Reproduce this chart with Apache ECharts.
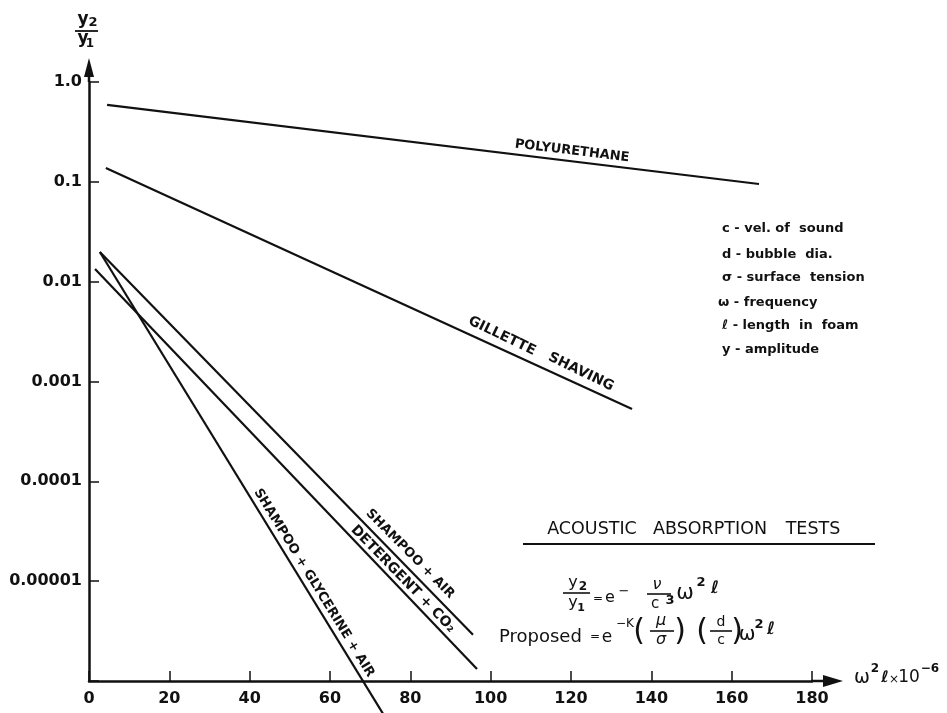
<!DOCTYPE html>
<html><head><meta charset="utf-8">
<script src="https://cdn.jsdelivr.net/npm/echarts@6/dist/echarts.min.js"></script>
<style>html,body{margin:0;padding:0;background:#fff}#c{width:947px;height:713px}</style>
</head><body><div id="c"></div>
<script>
// ---- data ----
const xTicks = [0, 20, 40, 60, 80, 100, 120, 140, 160, 180];
const yTickLabels = ['1.0', '0.1', '0.01', '0.001', '0.0001', '0.00001'];
const seriesNames = ['POLYURETHANE', 'GILLETTE SHAVING', 'SHAMPOO + AIR', 'DETERGENT + CO2', 'SHAMPOO + GLYCERINE + AIR'];
const polyurethane = [[4.5, 0.589], [166.8, 0.0951]];
const gillette = [[4.2, 0.1376], [135.2, 5.3e-4]];
const shampooAir = [[2.7, 0.0198], [95.6, 2.9e-6]];
const detergentCO2 = [[1.5, 0.0134], [96.6, 1.32e-6]];
const shampooGlycerine = [[2.7, 0.0198], [73.2, 4.7e-7]];

const FF = '"DejaVu Sans", sans-serif';
const INK = '#111';
function T(text, x, y, size, o) {
  o = o || {};
  return { type: 'text', x: x, y: y, rotation: o.rot || 0, z: 10,
    style: { text: text, fill: INK, fontSize: size, fontFamily: o.ff || FF,
      fontWeight: o.w || 'normal', fontStyle: o.it ? 'italic' : 'normal',
      align: o.align || 'center', verticalAlign: 'middle' } };
}
function L(x1, y1, x2, y2, w) {
  return { type: 'line', z: 10, shape: { x1: x1, y1: y1, x2: x2, y2: y2 }, style: { stroke: INK, lineWidth: w || 1.5 } };
}
function P(points) {
  return { type: 'polygon', z: 10, shape: { points: points }, style: { fill: INK } };
}

const lineStyle = { color: INK, width: 2.2 };
function S(name, data) {
  return { name: name, type: 'line', data: data, symbol: 'none', clip: false,
    lineStyle: lineStyle, silent: true, animation: false };
}

const graphics = [
  // axis arrow extensions
  L(89, 82, 89, 70, 2.5), P([[84, 77], [94, 77], [89, 58]]),
  L(811, 681, 826, 681, 2.5), P([[823, 675], [823, 687], [843, 681]]),
  // y axis title
  T('y', 83, 20, 17, { w: 'bold' }), T('2', 93, 23, 13, { w: 'bold' }), L(75, 31, 98, 31, 1.8),
  T('y', 83, 39, 17, { w: 'bold' }), T('1', 90, 44, 12, { w: 'bold' }),
  // x axis title
  T('ω', 862, 678, 19), T('2', 875, 669, 12, { w: 'bold' }), T('ℓ', 885, 678, 16, { it: true, w: 'bold' }),
  T('×', 894, 680, 12), T('10', 909, 678, 17), T('−6', 930, 669, 12, { w: 'bold' }),
  // line labels
  T('POLYURETHANE', 572, 151, 13, { w: 'bold', rot: -0.12 }),
  T('GILLETTE', 502, 336, 14, { w: 'bold', rot: -0.45 }),
  T('SHAVING', 581, 372, 14, { w: 'bold', rot: -0.45 }),
  T('SHAMPOO + AIR', 410, 554, 13, { w: 'bold', rot: -0.79 }),
  T('DETERGENT + CO₂', 403, 579, 14, { w: 'bold', rot: -0.80 }),
  T('SHAMPOO + GLYCERINE + AIR', 314, 583, 13, { w: 'bold', rot: -1.02 }),
  // legend of symbols
  T('c - vel. of  sound', 722, 229, 13, { w: 'bold', align: 'left' }),
  T('d - bubble  dia.', 722, 255, 13, { w: 'bold', align: 'left' }),
  T('σ - surface  tension', 722, 278, 13, { w: 'bold', align: 'left' }),
  T('ω - frequency', 718, 303, 13, { w: 'bold', align: 'left' }),
  T('ℓ - length  in  foam', 722, 326, 13, { w: 'bold', align: 'left' }),
  T('y - amplitude', 722, 350, 13, { w: 'bold', align: 'left' }),
  // title block
  T('ACOUSTIC', 592, 529, 17.5), T('ABSORPTION', 710, 529, 17.5), T('TESTS', 813, 529, 17.5),
  L(523, 544, 875, 544, 2),
  // formula 1
  T('y', 573, 583, 16), T('2', 583, 587, 12, { w: 'bold' }), L(563, 593, 590, 593, 1.6),
  T('y', 573, 603, 16), T('1', 581, 608, 11, { w: 'bold' }),
  T('=', 598, 599, 12), T('e', 610, 598, 16), T('−', 624, 592, 13),
  T('ν', 657, 585, 16, { it: true }), L(647, 594, 671, 594, 1.6),
  T('c', 655, 604, 15), T('3', 670, 601, 13, { w: 'bold' }),
  T('ω', 685, 594, 21), T('2', 701, 583, 13, { w: 'bold' }), T('ℓ', 715, 589, 17, { it: true, w: 'bold' }),
  // formula 2
  T('Proposed', 499, 637, 18, { align: 'left' }),
  T('=', 595, 637, 12), T('e', 607, 638, 17), T('−K', 625, 624, 12),
  T('(', 639, 632, 30), T('μ', 661, 621, 16, { it: true }), L(650, 631, 674, 631, 1.6),
  T('σ', 661, 640, 16, { it: true }), T(')', 680, 632, 30),
  T('(', 702, 632, 30), T('d', 721, 622, 14), L(710, 631, 732, 631, 1.6),
  T('c', 721, 640, 14), T(')', 737, 632, 30),
  T('ω', 747, 635, 20), T('2', 759, 625, 13, { w: 'bold' }), T('ℓ', 771, 630, 17, { it: true, w: 'bold' })
];

const chart = echarts.init(document.getElementById('c'), null, { renderer: 'canvas' });
chart.setOption({
  animation: false,
  backgroundColor: '#fff',
  grid: { left: 89, right: 135, top: 82, bottom: 32, outerBoundsMode: 'none' },
  xAxis: {
    type: 'value', min: xTicks[0], max: xTicks[xTicks.length - 1], interval: 20,
    axisLine: { show: true, onZero: false, lineStyle: { color: INK, width: 2.5 } },
    axisTick: { show: true, inside: true, length: 10, lineStyle: { color: INK, width: 1.5 } },
    axisLabel: { color: INK, fontSize: 16, fontWeight: 'bold', fontFamily: FF, margin: 10 },
    splitLine: { show: false }
  },
  yAxis: {
    type: 'log', logBase: 10, min: 1e-6, max: 1, splitNumber: 6,
    axisLine: { show: true, onZero: false, lineStyle: { color: INK, width: 2.5 } },
    axisTick: { show: true, inside: true, length: 10, lineStyle: { color: INK, width: 1.5 } },
    axisLabel: {
      color: INK, fontSize: 16, fontWeight: 'bold', fontFamily: FF, margin: 7,
      formatter: function (v) {
        const idx = Math.round(-Math.log10(v));
        return yTickLabels[idx] !== undefined ? yTickLabels[idx] : '';
      }
    },
    splitLine: { show: false }
  },
  series: [
    S(seriesNames[0], polyurethane),
    S(seriesNames[1], gillette),
    S(seriesNames[2], shampooAir),
    S(seriesNames[3], detergentCO2),
    S(seriesNames[4], shampooGlycerine)
  ],
  graphic: graphics
});
</script>
</body></html>
